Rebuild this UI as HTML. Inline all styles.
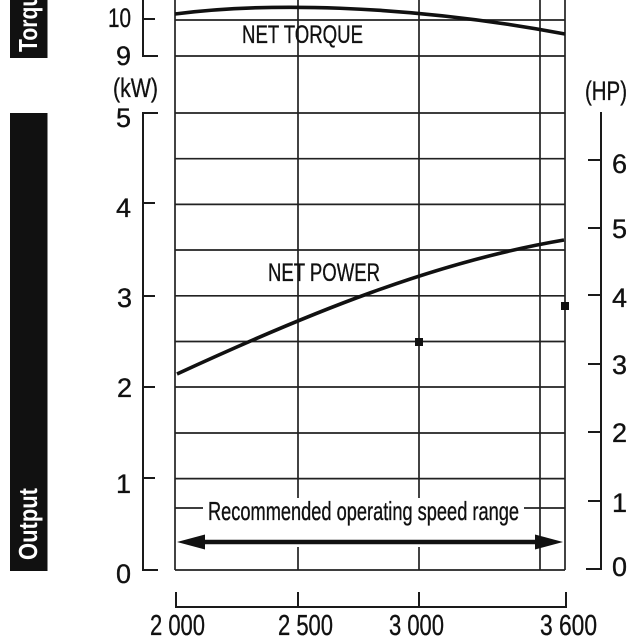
<!DOCTYPE html>
<html><head><meta charset="utf-8"><style>
html,body{margin:0;padding:0;background:#fff;}
svg{display:block;}
text{font-family:"Liberation Sans",sans-serif;fill:#111;}
.t{stroke:#111;stroke-width:0.35;}
</style></head><body>
<svg width="640" height="640" viewBox="0 0 640 640" xmlns="http://www.w3.org/2000/svg">
<rect width="640" height="640" fill="#fff"/>
<!-- black side bars -->
<rect x="10" y="0" width="37.5" height="58" fill="#111"/>
<rect x="10" y="113" width="37.5" height="458" fill="#111"/>
<text transform="translate(37,52) rotate(-90)" font-size="26" font-weight="bold" style="fill:#fff" textLength="70" lengthAdjust="spacingAndGlyphs">Torque</text>
<text transform="translate(37,560) rotate(-90)" font-size="26" font-weight="bold" style="fill:#fff" textLength="72" lengthAdjust="spacingAndGlyphs">Output</text>

<!-- grid -->
<g stroke="#222" stroke-width="1.7" fill="none">
<line x1="175" y1="20" x2="565" y2="20"/>
<line x1="175" y1="56" x2="565" y2="56"/>
<line x1="175" y1="113" x2="565" y2="113"/>
<line x1="175" y1="158.7" x2="565" y2="158.7"/>
<line x1="175" y1="204.4" x2="565" y2="204.4"/>
<line x1="175" y1="250" x2="565" y2="250"/>
<line x1="175" y1="295.8" x2="565" y2="295.8"/>
<line x1="175" y1="341.5" x2="565" y2="341.5"/>
<line x1="175" y1="387" x2="565" y2="387"/>
<line x1="175" y1="433" x2="565" y2="433"/>
<line x1="175" y1="478.6" x2="565" y2="478.6"/>
<line x1="175" y1="570" x2="565" y2="570"/>
<line x1="175" y1="508" x2="203" y2="508"/>
<line x1="524" y1="508" x2="565" y2="508"/>
<line x1="175" y1="0" x2="175" y2="570"/>
<line x1="298" y1="0" x2="298" y2="498"/>
<line x1="298" y1="547" x2="298" y2="570"/>
<line x1="419" y1="0" x2="419" y2="498"/>
<line x1="419" y1="547" x2="419" y2="570"/>
<line x1="540" y1="0" x2="540" y2="570"/>
<line x1="565" y1="0" x2="565" y2="570"/>
</g>

<!-- left axes -->
<g stroke="#1a1a1a" stroke-width="2" fill="none">
<polyline points="155,19 143,19 143,0"/>
<polyline points="143,0 143,56 158,56"/>
<polyline points="158,113 143,113 143,570 158,570"/>
<line x1="143" y1="203" x2="155" y2="203"/>
<line x1="143" y1="296" x2="155" y2="296"/>
<line x1="143" y1="387" x2="155" y2="387"/>
<line x1="143" y1="478" x2="155" y2="478"/>
<!-- right axis -->
<polyline points="601,112 601,569 586,569"/>
<line x1="588" y1="160" x2="601" y2="160"/>
<line x1="588" y1="228" x2="601" y2="228"/>
<line x1="588" y1="295" x2="601" y2="295"/>
<line x1="588" y1="364" x2="601" y2="364"/>
<line x1="588" y1="432" x2="601" y2="432"/>
<line x1="588" y1="501" x2="601" y2="501"/>
<!-- bottom axis -->
<line x1="175" y1="607" x2="567" y2="607"/>
<line x1="176" y1="592" x2="176" y2="607"/>
<line x1="298" y1="592" x2="298" y2="607"/>
<line x1="419" y1="592" x2="419" y2="607"/>
<line x1="566" y1="592" x2="566" y2="607"/>
</g>

<!-- left labels -->
<g font-size="27" text-anchor="end" class="t">
<text x="131" y="27" textLength="23" lengthAdjust="spacingAndGlyphs">10</text>
<text x="131" y="65">9</text>
<text x="131" y="127">5</text>
<text x="131" y="217">4</text>
<text x="132" y="307">3</text>
<text x="132" y="397">2</text>
<text x="131" y="493">1</text>
<text x="131" y="583">0</text>
</g>
<text x="113" y="97" font-size="27" class="t" textLength="45" lengthAdjust="spacingAndGlyphs">(kW)</text>
<text x="585" y="100" font-size="27" class="t" textLength="42" lengthAdjust="spacingAndGlyphs">(HP)</text>
<!-- right labels -->
<g font-size="27" class="t">
<text x="612" y="173">6</text>
<text x="612" y="238">5</text>
<text x="612" y="307">4</text>
<text x="612" y="374">3</text>
<text x="612" y="442">2</text>
<text x="612" y="512">1</text>
<text x="612" y="576">0</text>
</g>
<!-- bottom labels -->
<g font-size="29" class="t">
<text x="150" y="635" textLength="55" lengthAdjust="spacingAndGlyphs">2 000</text>
<text x="278" y="635" textLength="55" lengthAdjust="spacingAndGlyphs">2 500</text>
<text x="389" y="635" textLength="55" lengthAdjust="spacingAndGlyphs">3 000</text>
<text x="540" y="635" textLength="57" lengthAdjust="spacingAndGlyphs">3 600</text>
</g>

<!-- curve labels -->
<text x="242" y="43" font-size="25" class="t" textLength="121" lengthAdjust="spacingAndGlyphs">NET TORQUE</text>
<text x="268" y="281" font-size="25" class="t" textLength="112" lengthAdjust="spacingAndGlyphs">NET POWER</text>

<!-- curves -->
<path d="M175,14 C260,3 400,3 565,34" stroke="#111" stroke-width="3.6" fill="none"/>
<path d="M177,374 C307,314 434,262 564,240" stroke="#111" stroke-width="3.6" fill="none"/>

<!-- markers -->
<rect x="415" y="338" width="8" height="8" fill="#111"/>
<rect x="561" y="302" width="8" height="8" fill="#111"/>

<!-- recommended range -->
<text x="208" y="520" font-size="26" class="t" textLength="311" lengthAdjust="spacingAndGlyphs">Recommended operating speed range</text>
<line x1="200" y1="542" x2="540" y2="542" stroke="#111" stroke-width="4.5"/>
<polygon points="177,542 205,534.5 205,549.5" fill="#111"/>
<polygon points="563,542 535,534.5 535,549.5" fill="#111"/>
</svg>
</body></html>
